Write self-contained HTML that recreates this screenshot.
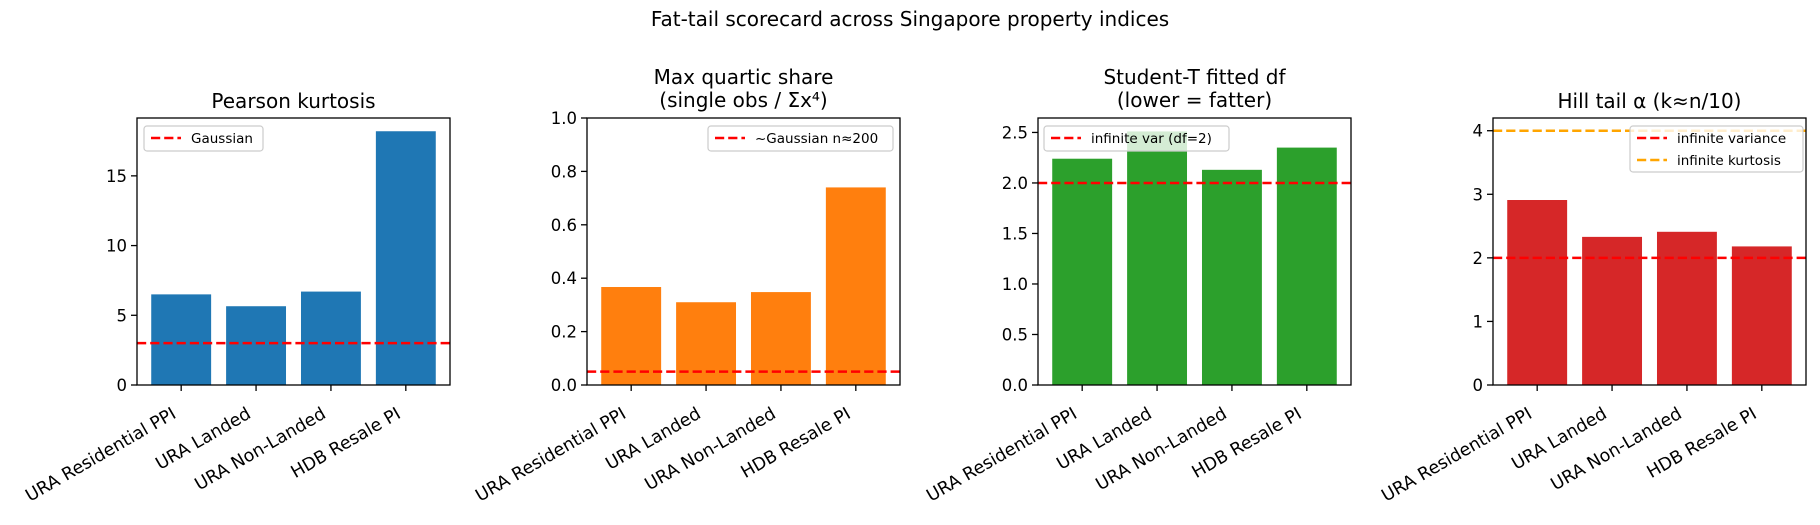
<!DOCTYPE html>
<html><head><meta charset="utf-8"><style>
body{margin:0;background:#fff;}
svg text{font-family:"DejaVu Sans","Liberation Sans",sans-serif;fill:#000;}
</style></head><body>
<svg id="fig" width="1820" height="520" viewBox="0 0 1820 520" xmlns="http://www.w3.org/2000/svg">
<text x="910" y="26" font-size="20" text-anchor="middle">Fat-tail scorecard across Singapore property indices</text>
</svg>
<script>
const categories = ["URA Residential PPI","URA Landed","URA Non-Landed","HDB Resale PI"];
const kurtosisValues = [6.5, 5.65, 6.7, 18.2];
const quarticValues = [0.367, 0.31, 0.348, 0.74];
const dfValues = [2.24, 2.51, 2.13, 2.35];
const hillValues = [2.91, 2.33, 2.41, 2.18];
const kurtTicks = [0, 5, 10, 15];
const quartTicks = [0, 0.2, 0.4, 0.6, 0.8, 1.0];
const dfTicks = [0, 0.5, 1.0, 1.5, 2.0, 2.5];
const hillTicks = [0, 1, 2, 3, 4];
const kurtRef = [3];
const quartRef = [0.05];
const dfRef = [2];
const hillRef = [2, 4];

const NS = "http://www.w3.org/2000/svg";
const svg = document.getElementById('fig');
function mk(tag, attrs, parent){const e=document.createElementNS(NS,tag);for(const k in attrs)e.setAttribute(k,attrs[k]);(parent||svg).appendChild(e);return e;}

const panels = [
 {key:'kurtosis',left:137,title:['Pearson kurtosis'],vals:kurtosisValues,ymax:19.15,ticks:kurtTicks,dec:0,color:'#1f77b4',
  refs:[{v:kurtRef[0],c:'#ff0000',label:'Gaussian'}],legend:{x:144,w:119}},
 {key:'quartic',left:587,title:['Max quartic share','(single obs / Σx⁴)'],vals:quarticValues,ymax:1.0,ticks:quartTicks,dec:1,color:'#ff7f0e',
  refs:[{v:quartRef[0],c:'#ff0000',label:'~Gaussian n≈200'}],legend:{x:708,w:185}},
 {key:'student-t',left:1038,title:['Student-T fitted df','(lower = fatter)'],vals:dfValues,ymax:2.643,ticks:dfTicks,dec:1,color:'#2ca02c',
  refs:[{v:dfRef[0],c:'#ff0000',label:'infinite var (df=2)'}],legend:{x:1044,w:185}},
 {key:'hill',left:1493,title:['Hill tail α (k≈n/10)'],vals:hillValues,ymax:4.2,ticks:hillTicks,dec:0,color:'#d62728',
  refs:[{v:hillRef[0],c:'#ff0000',label:'infinite variance'},{v:hillRef[1],c:'#ffa500',label:'infinite kurtosis'}],legend:{x:1630,w:173}}
];
const W=313, TOP=118, BOT=385;

panels.forEach(p=>{
  const g=mk('g',{});
  
  
  const xs = i => p.left + (i+0.59)/4.18*W;
  const ys = v => BOT - v/p.ymax*(BOT-TOP);
  p.title.forEach((t,i)=>{
    const tt=mk('text',{x:p.left+W/2,y:(p.title.length===1?108:84+i*23),'font-size':20,'text-anchor':'middle'},g);
    tt.textContent=t;
    
    
  });
  p.vals.forEach((v,i)=>{
    const bw=0.8/4.18*W;
    const r=mk('rect',{x:xs(i)-bw/2,y:ys(v),width:bw,height:BOT-ys(v),fill:p.color},g);
    
    
  });
  p.refs.forEach(rf=>{
    const l=mk('line',{x1:p.left,x2:p.left+W,y1:ys(rf.v),y2:ys(rf.v),stroke:rf.c,'stroke-width':2.5,'stroke-dasharray':'9.2 4'},g);
    
    
  });
  const fr=mk('rect',{x:p.left,y:TOP,width:W,height:BOT-TOP,fill:'none',stroke:'#000','stroke-width':1.3},g);
  
  
  p.ticks.forEach(t=>{
    const y=ys(t);
    mk('line',{x1:p.left-6,x2:p.left,y1:y,y2:y,stroke:'#000','stroke-width':1.3},g);
    const tx=mk('text',{x:p.left-10,y:y+6,'font-size':16.5,'text-anchor':'end'},g);
    tx.textContent=t.toFixed(p.dec);
    
    
  });
  categories.forEach((c,i)=>{
    const x=xs(i);
    mk('line',{x1:x,x2:x,y1:BOT,y2:BOT+6,stroke:'#000','stroke-width':1.3},g);
    const ax=x-4, ay=BOT+32;
    const tx=mk('text',{x:ax,y:ay,'font-size':17.5,'text-anchor':'end',transform:`rotate(-30 ${ax} ${ay})`},g);
    tx.textContent=c;
    
    
  });
  const n=p.refs.length;
  const lg=mk('g',{},g);
  
  
  mk('rect',{x:p.legend.x,y:126,width:p.legend.w,height:n===1?25:46,rx:3,fill:'#fff','fill-opacity':0.8,stroke:'#cccccc','stroke-width':1.2},lg);
  p.refs.forEach((rf,j)=>{
    const y=138+j*22;
    mk('line',{x1:p.legend.x+7,x2:p.legend.x+37,y1:y,y2:y,stroke:rf.c,'stroke-width':2.5,'stroke-dasharray':'9.2 4'},lg);
    const tx=mk('text',{x:p.legend.x+47,y:y+5,'font-size':13.5},lg);
    tx.textContent=rf.label;
    
    
  });
});
</script>
</body></html>
